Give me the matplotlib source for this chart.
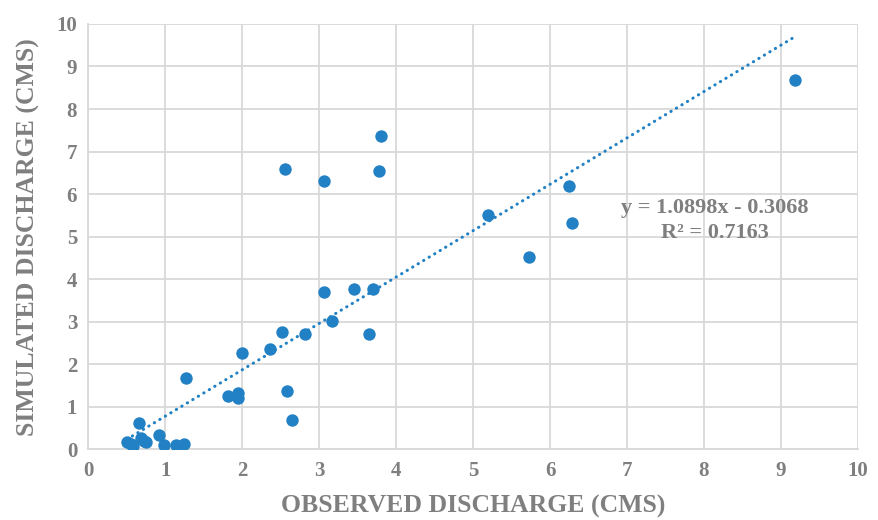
import matplotlib as mpl

mpl.use("Agg")

import matplotlib.pyplot as plt
import numpy as np

# observed vs simulated discharge (cms)
observed = [
    0.50, 0.56, 0.58, 0.66, 0.69, 0.72, 0.75, 0.92, 0.98, 1.14, 1.18, 1.24,
    1.265, 1.81, 1.95, 1.95, 2.00, 2.36, 2.52, 2.55, 2.58, 2.65, 2.81, 3.06,
    3.06, 3.16, 3.45, 3.65, 3.70, 3.78, 3.80, 5.19, 5.72, 6.24, 6.28, 9.18,
]
simulated = [
    0.17, 0.13, 0.08, 0.63, 0.26, 0.20, 0.18, 0.34, 0.10, 0.10, 0.05, 0.12,
    1.67, 1.26, 1.33, 1.22, 2.26, 2.37, 2.77, 6.60, 1.38, 0.69, 2.72, 6.31,
    3.70, 3.01, 3.77, 2.72, 3.76, 6.55, 7.36, 5.50, 4.52, 6.19, 5.33, 8.69,
]

slope = 1.0898
intercept = -0.3068
r_squared = 0.7163

ticks = list(range(0, 11))

GREY = "#7f7f7f"
BLUE = "#2181c4"
FONT = "Liberation Serif"


def main() -> None:
    fig = plt.figure(figsize=(8.79, 5.20), dpi=100)
    ax = fig.add_axes([0.1005, 0.1356, 0.8755, 0.8184])

    ax.set_xlim(0, 10)
    ax.set_ylim(0, 10)
    ax.set_xticks(ticks)
    ax.set_yticks(ticks)
    ax.grid(True, color="#d9d9d9", lw=1.3)
    ax.set_axisbelow(True)
    for side in ["top", "right"]:
        ax.spines[side].set_visible(False)
    for side in ["left", "bottom"]:
        ax.spines[side].set_color("#d9d9d9")
        ax.spines[side].set_linewidth(1.3)
    ax.tick_params(length=0, pad=8, labelcolor=GREY)
    for lab in ax.get_xticklabels() + ax.get_yticklabels():
        lab.set_fontfamily(FONT)
        lab.set_fontweight("bold")
        lab.set_fontsize(15)

    ax.scatter(observed, simulated, s=80, color=BLUE, lw=0, zorder=3)

    # linear trend over the observed range
    xs = np.array([min(observed), max(observed)])
    ax.plot(xs, slope * xs + intercept, color=BLUE, lw=2.2,
            linestyle=(0, (0.1, 2.0)), dash_capstyle="round", zorder=2)

    ax.text(8.14, 5.67, f"y = {slope:.4f}x - {abs(intercept):.4f}",
            ha="center", va="center", fontsize=16, fontweight="bold",
            family=FONT, color=GREY)
    ax.text(8.14, 5.08, f"R² = {r_squared:.4f}",
            ha="center", va="center", fontsize=16, fontweight="bold",
            family=FONT, color=GREY)

    ax.set_xlabel("OBSERVED DISCHARGE (CMS)", fontsize=18.5, fontweight="bold",
                  family=FONT, color=GREY, labelpad=10)
    ax.set_ylabel("SIMULATED DISCHARGE (CMS)", fontsize=18.5, fontweight="bold",
                  family=FONT, color=GREY, labelpad=12)

    fig.savefig("out.png", dpi=100)


if __name__ == "__main__":
    main()
